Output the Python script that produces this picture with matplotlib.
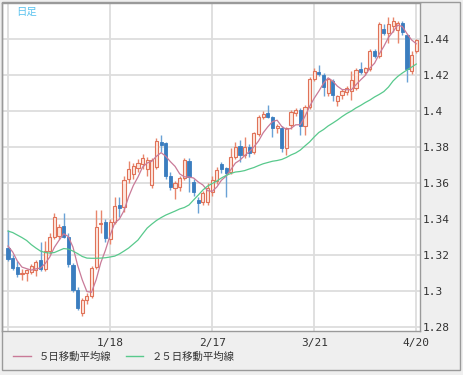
import numpy as np
import pandas as pd
import matplotlib
matplotlib.use("Agg")
import matplotlib.pyplot as plt
from matplotlib.patches import Rectangle
from matplotlib.lines import Line2D

# 日足 OHLC (12/17 .. 4/20)
opens = [1.3240, 1.3185, 1.3135, 1.3092, 1.3098, 1.3108, 1.3118, 1.3170, 1.3120, 1.3220,
         1.3300, 1.3305, 1.3360, 1.3302, 1.3145, 1.3006, 1.2880, 1.2950, 1.2970, 1.3135,
         1.3370, 1.3385, 1.3290, 1.3385, 1.3478, 1.3465, 1.3625, 1.3650, 1.3685, 1.3705,
         1.3680, 1.3590, 1.3690, 1.3830, 1.3820, 1.3640, 1.3572, 1.3580, 1.3628, 1.3725,
         1.3608, 1.3505, 1.3496, 1.3495, 1.3550, 1.3610, 1.3706, 1.3683, 1.3663, 1.3746,
         1.3805, 1.3757, 1.3802, 1.3770, 1.3870, 1.3965, 1.3987, 1.3968, 1.3906, 1.3905,
         1.3795, 1.3925, 1.3988, 1.4005, 1.3918, 1.4024, 1.4180, 1.4218, 1.4200, 1.4098,
         1.4165, 1.4055, 1.4090, 1.4105, 1.4110, 1.4128, 1.4232, 1.4218, 1.4232, 1.4336,
         1.4305, 1.4455, 1.4432, 1.4470, 1.4450, 1.4490, 1.4420, 1.4225, 1.4335]
highs = [1.3340, 1.3200, 1.3165, 1.3120, 1.3125, 1.3150, 1.3175, 1.3275, 1.3280, 1.3320,
         1.3435, 1.3375, 1.3435, 1.3320, 1.3155, 1.3020, 1.2960, 1.2990, 1.3140, 1.3450,
         1.3450, 1.3400, 1.3400, 1.3520, 1.3525, 1.3640, 1.3720, 1.3710, 1.3735, 1.3760,
         1.3745, 1.3740, 1.3850, 1.3865, 1.3830, 1.3660, 1.3610, 1.3640, 1.3740, 1.3740,
         1.3620, 1.3525, 1.3555, 1.3600, 1.3640, 1.3690, 1.3718, 1.3690, 1.3793, 1.3830,
         1.3838, 1.3857, 1.3815, 1.3885, 1.3980, 1.3998, 1.4035, 1.3975, 1.3930, 1.3915,
         1.3910, 1.4005, 1.4015, 1.4015, 1.4035, 1.4190, 1.4240, 1.4256, 1.4210, 1.4180,
         1.4180, 1.4088, 1.4125, 1.4140, 1.4225, 1.4240, 1.4274, 1.4245, 1.4345, 1.4345,
         1.4494, 1.4485, 1.4520, 1.4520, 1.4500, 1.4500, 1.4430, 1.4335, 1.4400]
lows = [1.3165, 1.3115, 1.3080, 1.3060, 1.3055, 1.3095, 1.3085, 1.3110, 1.3110, 1.3205,
        1.3290, 1.3290, 1.3295, 1.3135, 1.2995, 1.2895, 1.2862, 1.2930, 1.2960, 1.3120,
        1.3320, 1.3270, 1.3260, 1.3370, 1.3410, 1.3440, 1.3600, 1.3620, 1.3660, 1.3680,
        1.3640, 1.3575, 1.3680, 1.3775, 1.3620, 1.3560, 1.3510, 1.3555, 1.3615, 1.3552,
        1.3530, 1.3432, 1.3478, 1.3480, 1.3530, 1.3595, 1.3655, 1.3525, 1.3650, 1.3735,
        1.3718, 1.3740, 1.3745, 1.3760, 1.3860, 1.3955, 1.3960, 1.3857, 1.3880, 1.3775,
        1.3756, 1.3900, 1.3970, 1.3867, 1.3867, 1.4010, 1.4165, 1.4195, 1.4085, 1.4085,
        1.4055, 1.4028, 1.4065, 1.4090, 1.4060, 1.4115, 1.4205, 1.4200, 1.4225, 1.4295,
        1.4295, 1.4420, 1.4376, 1.4440, 1.4376, 1.4420, 1.4160, 1.4205, 1.4320]
closes = [1.3180, 1.3130, 1.3095, 1.3102, 1.3115, 1.3140, 1.3162, 1.3120, 1.3225, 1.3300,
          1.3410, 1.3355, 1.3300, 1.3148, 1.3006, 1.2906, 1.2950, 1.2975, 1.3130, 1.3355,
          1.3380, 1.3295, 1.3385, 1.3475, 1.3463, 1.3615, 1.3680, 1.3695, 1.3712, 1.3740,
          1.3730, 1.3728, 1.3835, 1.3810, 1.3640, 1.3580, 1.3598, 1.3626, 1.3728, 1.3635,
          1.3552, 1.3488, 1.3543, 1.3570, 1.3615, 1.3672, 1.3678, 1.3655, 1.3746, 1.3802,
          1.3757, 1.3802, 1.3765, 1.3876, 1.3968, 1.3985, 1.3968, 1.3908, 1.3916, 1.3793,
          1.3904, 1.3996, 1.4008, 1.3918, 1.4024, 1.4180, 1.4225, 1.4205, 1.4135, 1.4176,
          1.4090, 1.4083, 1.4113, 1.4130, 1.4175, 1.4228, 1.4218, 1.4237, 1.4335, 1.4308,
          1.4482, 1.4432, 1.4485, 1.4498, 1.4490, 1.4440, 1.4235, 1.4310, 1.4392]

# 5日移動平均線: 最初の4本はチャートから読み取り
ma5_head = [1.3250, 1.3217, 1.3167, 1.3133]
# 25日移動平均線 (チャートから読み取り)
ma25 = [1.3333, 1.3325, 1.3311, 1.3297, 1.3281, 1.3258, 1.3239, 1.3222, 1.3214, 1.3211,
        1.3214, 1.3225, 1.3236, 1.3233, 1.3222, 1.3208, 1.3192, 1.3183, 1.3182, 1.3182,
        1.3183, 1.3185, 1.3189, 1.3194, 1.3206, 1.3222, 1.3239, 1.3261, 1.3283, 1.3317,
        1.3350, 1.3372, 1.3392, 1.3408, 1.3422, 1.3433, 1.3444, 1.3456, 1.3464, 1.3478,
        1.3506, 1.3533, 1.3561, 1.3583, 1.3597, 1.3611, 1.3628, 1.3642, 1.3653, 1.3661,
        1.3664, 1.3669, 1.3678, 1.3686, 1.3697, 1.3707, 1.3714, 1.3721, 1.3725, 1.3731,
        1.3742, 1.3756, 1.3767, 1.3783, 1.3806, 1.3828, 1.3856, 1.3881, 1.3897, 1.3917,
        1.3933, 1.3950, 1.3969, 1.3986, 1.4000, 1.4017, 1.4031, 1.4047, 1.4061, 1.4078,
        1.4092, 1.4108, 1.4133, 1.4167, 1.4192, 1.4211, 1.4228, 1.4244, 1.4261]

x_ticks = [0, 22, 44, 66, 88]
x_labels = ["", "1/18", "2/17", "3/21", "4/20"]
y_ticks = [1.28, 1.30, 1.32, 1.34, 1.36, 1.38, 1.40, 1.42, 1.44]
y_labels = ["1.28", "1.3", "1.32", "1.34", "1.36", "1.38", "1.4", "1.42", "1.44"]

jp = ["Noto Sans CJK JP", "DejaVu Sans"]

o = np.array(opens)
h = np.array(highs)
l = np.array(lows)
c = np.array(closes)
idx = np.arange(len(c))
ma5 = pd.Series(c).rolling(5).mean().to_numpy()
ma5[:4] = ma5_head

W, H = 463, 375
fig = plt.figure(figsize=(W / 100, H / 100), dpi=100, facecolor="#efefef")
ax = fig.add_axes([2 / W, 1 - 331 / H, 418 / W, 328 / H])
ax.set_facecolor("white")
ax.set_xlim(-1.3, 88.8)
ax.set_ylim(1.2778, 1.46)

ax.set_xticks(x_ticks)
ax.set_xticklabels(x_labels)
ax.set_yticks(y_ticks)
ax.set_yticklabels(y_labels)
ax.yaxis.tick_right()
ax.tick_params(length=0, labelsize=8, colors="#333333")
ax.tick_params(axis="y", pad=2)
ax.tick_params(axis="x", pad=5)
for lab in ax.get_xticklabels() + ax.get_yticklabels():
    lab.set_family("DejaVu Sans Mono")
ax.grid(True, color="#dddddd", lw=1.3)
ax.set_axisbelow(True)
for s in ax.spines.values():
    s.set_color("#9a9a9a")
    s.set_linewidth(1)

up = c >= o
dn = ~up
bw = 0.68
# 陽線
ax.vlines(idx[up], l[up], h[up], color="#e8866c", lw=1, zorder=2)
ax.bar(idx[up], np.maximum(c[up] - o[up], 0.0004), bottom=o[up], width=bw,
       facecolor="#fde8e0", edgecolor="#e07258", lw=0.8, zorder=3)
# 陰線
ax.vlines(idx[dn], l[dn], h[dn], color="#6aa2d6", lw=1, zorder=2)
ax.bar(idx[dn], np.maximum(o[dn] - c[dn], 0.0004), bottom=c[dn], width=bw,
       facecolor="#3a7dbf", edgecolor="#3a7dbf", lw=0.6, zorder=3)

ax.plot(idx, ma5, color="#c97a98", lw=0.9, zorder=4)
ax.plot(idx, ma25, color="#58c98c", lw=0.9, zorder=4)

fig.text(16 / W, 1 - 12 / H, "日足", color="#5cc3ef", fontsize=7.5, family=jp, va="center")

handles = [Line2D([], [], color="#c97a98", lw=1), Line2D([], [], color="#58c98c", lw=1)]
fig.legend(handles, ["５日移動平均線", "２５日移動平均線"], loc="center left",
           bbox_to_anchor=(13 / W, 1 - 357 / H), ncol=2, frameon=False,
           prop={"family": jp, "size": 7.5}, labelcolor="#333333",
           handlelength=1.7, handletextpad=0.75, columnspacing=1.4,
           borderpad=0, borderaxespad=0)

fig.add_artist(Rectangle((1.5 / W, 5 / H), 458.5 / W, 368.5 / H, transform=fig.transFigure,
                         fill=False, ec="#9a9a9a", lw=1))

fig.savefig("out.png", dpi=100, facecolor=fig.get_facecolor())
